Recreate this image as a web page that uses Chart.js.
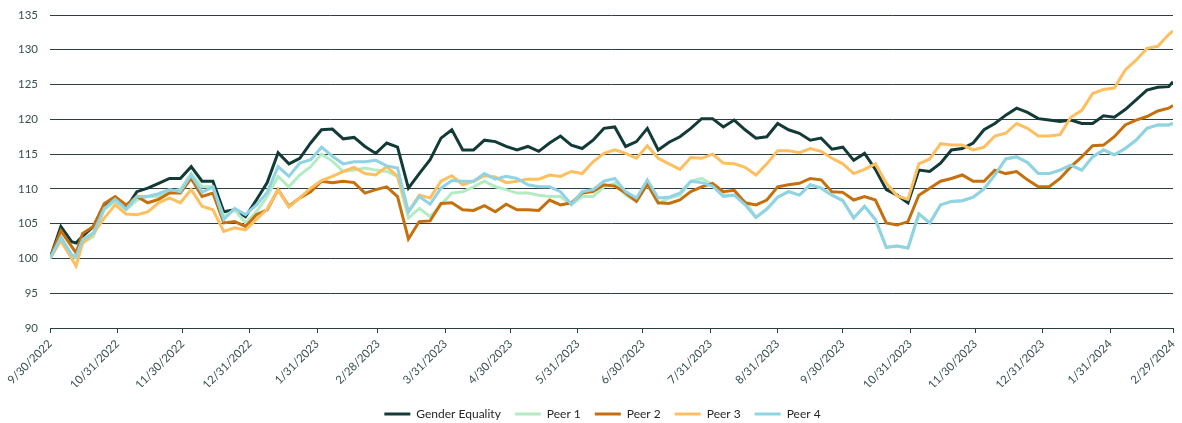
<!DOCTYPE html>
<html><head><meta charset="utf-8">
<script src="https://cdn.jsdelivr.net/npm/chart.js@4.4.1/dist/chart.umd.min.js"></script>
<style>html,body{margin:0;padding:0;background:#fff;}#wrap{width:1182px;height:423px;position:relative;}</style>
</head><body><div id="wrap"><canvas id="c"></canvas></div>
<script>
// x positions: days since 9/30/2022
const days = [0,5,10,12,15,
 20,25,30,35,40,45,50,55,60,65,
 70,75,80,85,90,95,100,105,110,115,
 120,125,130,135,140,145,150,155,160,165,
 170,175,180,185,190,195,200,205,210,215,
 220,225,230,235,240,245,250,255,260,265,
 270,275,280,285,290,295,300,305,310,315,
 320,325,330,335,340,345,350,355,360,365,
 370,375,380,385,390,395,400,405,410,415,
 420,425,430,435,440,445,450,455,460,465,
 470,475,480,485,490,495,500,505,510,515,
 517];
const tickDays = [0,31,61,92,123,151,182,212,243,273,304,335,365,396,426,457,488,517];
const tickLabels = ['9/30/2022','10/31/2022','11/30/2022','12/31/2022','1/31/2023','2/28/2023','3/31/2023','4/30/2023','5/31/2023','6/30/2023','7/31/2023','8/31/2023','9/30/2023','10/31/2023','11/30/2023','12/31/2023','1/31/2024','2/29/2024'];
const seriesNames = ['Gender Equality','Peer 1','Peer 2','Peer 3','Peer 4'];

const genderEquality = [100,104.6,102.4,102.2,103.2,
 104.6,107.7,108.3,107.2,109.6,110.1,110.8,111.5,111.5,113.2,
 111.1,111.1,106.7,107.0,106.0,108.4,110.9,115.2,113.6,114.4,
 116.6,118.5,118.6,117.2,117.4,116.1,115.1,116.6,116.0,110.1,
 112.2,114.2,117.3,118.5,115.6,115.6,117.0,116.8,116.1,115.6,
 116.1,115.4,116.6,117.6,116.3,115.8,117.0,118.7,118.9,116.1,
 116.8,118.7,115.6,116.7,117.5,118.7,120.1,120.1,118.9,119.9,
 118.5,117.3,117.5,119.4,118.5,118.0,117.0,117.3,115.7,116.0,
 114.1,115.1,112.8,109.9,109.1,108.0,112.7,112.5,113.7,115.6,
 115.8,116.6,118.5,119.4,120.6,121.6,121.0,120.1,119.9,119.7,
 119.9,119.4,119.4,120.5,120.3,121.4,122.8,124.2,124.6,124.7,
 125.4];
const peer1 = [100,103.2,100.5,100.0,102.2,
 103.2,107.0,108.2,107.0,108.4,108.9,108.9,109.6,109.9,112.2,
 110.3,110.3,106.0,107.0,105.1,106.7,108.9,111.8,110.3,112.0,
 113.2,115.0,114.0,112.5,112.7,113.0,112.7,112.5,111.8,105.8,
 107.2,106.0,107.7,109.4,109.6,110.3,111.1,110.3,109.9,109.4,
 109.4,109.1,108.9,108.9,107.7,108.9,108.9,110.3,110.8,109.1,
 108.2,110.6,107.9,108.7,109.1,111.1,111.5,110.6,109.1,109.1,
 108.2,105.9,107.1,108.8,109.6,109.1,110.6,110.1,109.1,108.3,
 105.8,107.5,105.6,101.6,101.8,101.5,106.4,105.1,107.7,108.2,
 108.3,108.8,110.0,112.0,114.3,114.6,113.8,112.2,112.2,112.7,
 113.4,112.7,114.6,115.6,114.9,115.8,117.0,118.7,119.2,119.2,
 119.4];
const peer2 = [100,104.0,101.7,100.8,103.6,
 104.6,107.9,108.9,107.7,108.9,108.0,108.5,109.4,109.4,111.5,
 108.9,109.4,105.1,105.3,104.6,106.3,107.0,109.9,107.5,108.7,
 109.6,111.1,110.9,111.1,110.9,109.4,109.9,110.3,108.9,102.8,
 105.3,105.4,107.9,108.0,107.0,106.9,107.6,106.7,107.8,107.0,
 107.0,106.9,108.4,107.7,108.0,109.4,109.6,110.6,110.4,109.4,
 108.2,110.7,108.0,107.9,108.4,109.6,110.3,110.8,109.6,109.8,
 108.0,107.7,108.4,110.3,110.6,110.8,111.5,111.3,109.6,109.5,
 108.4,108.9,108.4,105.1,104.8,105.3,109.1,110.1,111.1,111.5,
 112.0,111.1,111.1,112.7,112.2,112.5,111.3,110.3,110.3,111.5,
 113.2,114.6,116.2,116.3,117.5,119.2,119.9,120.4,121.2,121.6,
 122.0];
const peer3 = [100,102.5,100.0,98.9,102.2,
 103.6,105.8,107.7,106.4,106.3,106.7,108.0,108.7,108.0,109.9,
 107.5,107.0,103.9,104.4,104.1,105.6,107.1,109.9,107.4,108.7,
 110.1,111.2,111.8,112.5,113.1,112.2,112.0,113.2,111.8,106.7,
 109.1,108.7,111.1,111.9,110.6,111.1,111.9,111.7,110.9,111.1,
 111.4,111.4,112.0,111.8,112.5,112.2,113.9,115.1,115.6,115.1,
 114.4,116.2,114.4,113.6,112.8,114.5,114.4,115.0,113.7,113.6,
 113.1,112.0,113.6,115.5,115.5,115.2,115.8,115.4,114.4,113.6,
 112.2,112.8,113.6,110.8,109.0,108.5,113.6,114.3,116.5,116.3,
 116.3,115.6,116.0,117.6,118.0,119.4,118.7,117.6,117.6,117.8,
 120.3,121.3,123.7,124.3,124.5,127.1,128.5,130.2,130.5,132.2,
 132.7];
const peer4 = [100,103.0,100.5,100.3,102.7,
 103.7,107.2,108.5,107.1,108.9,108.9,109.3,109.9,109.6,112.0,
 109.5,110.3,105.6,107.2,106.3,107.7,109.5,113.2,111.8,113.7,
 114.2,116.0,114.7,113.6,113.9,113.9,114.1,113.3,113.0,106.7,
 108.9,107.8,110.1,111.2,111.1,111.1,112.2,111.4,111.8,111.5,
 110.6,110.3,110.3,109.6,107.8,109.6,109.9,111.1,111.5,109.6,
 108.7,111.3,108.7,108.8,109.4,111.1,110.9,110.4,108.9,109.1,
 107.7,105.9,107.1,108.8,109.6,109.1,110.6,110.1,109.1,108.3,
 105.8,107.5,105.6,101.6,101.8,101.5,106.4,105.1,107.7,108.2,
 108.3,108.8,110.0,112.0,114.3,114.6,113.8,112.2,112.2,112.7,
 113.4,112.7,114.6,115.6,114.9,115.8,117.0,118.7,119.2,119.2,
 119.4];

const colors = ['#123b37','#b3ebc2','#c6700d','#fdbf5f','#8fd3e5'];
const allSeries = [genderEquality, peer1, peer2, peer3, peer4];

const datasets = allSeries.map((vals, i) => ({
  label: seriesNames[i],
  data: vals.map((v, j) => ({x: days[j], y: v})),
  borderColor: colors[i],
  backgroundColor: colors[i],
  borderWidth: 3,
  pointRadius: 0,
  tension: 0,
  fill: false,
  order: allSeries.length - 1 - i
}));

const shiftLegend = {
  id: 'shiftLegend',
  afterLayout(chart) {
    const l = chart.legend;
    if (l) { l.top += 7; l.bottom += 7; l.left += 16; l.right += 16; }
  }
};

Chart.defaults.font.family = 'Lato';
new Chart(document.getElementById('c'), {
  type: 'line',
  data: {datasets},
  plugins: [shiftLegend],
  options: {
    responsive: true,
    maintainAspectRatio: false,
    animation: false,
    layout: {padding: {top: 15, right: 9, left: 0, bottom: 0}},
    plugins: {
      legend: {
        position: 'bottom',
        labels: {
          usePointStyle: true, pointStyle: 'line', pointStyleWidth: 26,
          padding: 14, color: '#262626', font: {family: 'Lato', size: 12},
          sort: (a, b) => a.datasetIndex - b.datasetIndex
        }
      },
      tooltip: {enabled: false}
    },
    scales: {
      x: {
        type: 'linear', min: 0, max: 517,
        afterBuildTicks: ax => { ax.ticks = tickDays.map(v => ({value: v})); },
        ticks: {
          autoSkip: false, minRotation: 45, maxRotation: 45, padding: 4,
          color: '#3a4f4f', font: {family: 'Lato', size: 11.5},
          callback: (v, i) => tickLabels[i]
        },
        grid: {drawOnChartArea: false, drawTicks: true, tickLength: 5, color: '#2b4040'},
        border: {color: '#2b4040', width: 1},
        afterFit: ax => { ax.height = 59; ax.paddingLeft = 0; ax.paddingRight = 0; }
      },
      y: {
        min: 90, max: 135,
        ticks: {stepSize: 5, padding: 12, color: '#3a4f4f', font: {family: 'Lato', size: 11.5}},
        grid: {drawTicks: false, color: '#2b4040', lineWidth: 1},
        border: {display: false},
        afterFit: ax => { ax.width = 50; ax.paddingTop = 0; ax.paddingBottom = 0; }
      }
    }
  }
});
</script>
</body></html>
